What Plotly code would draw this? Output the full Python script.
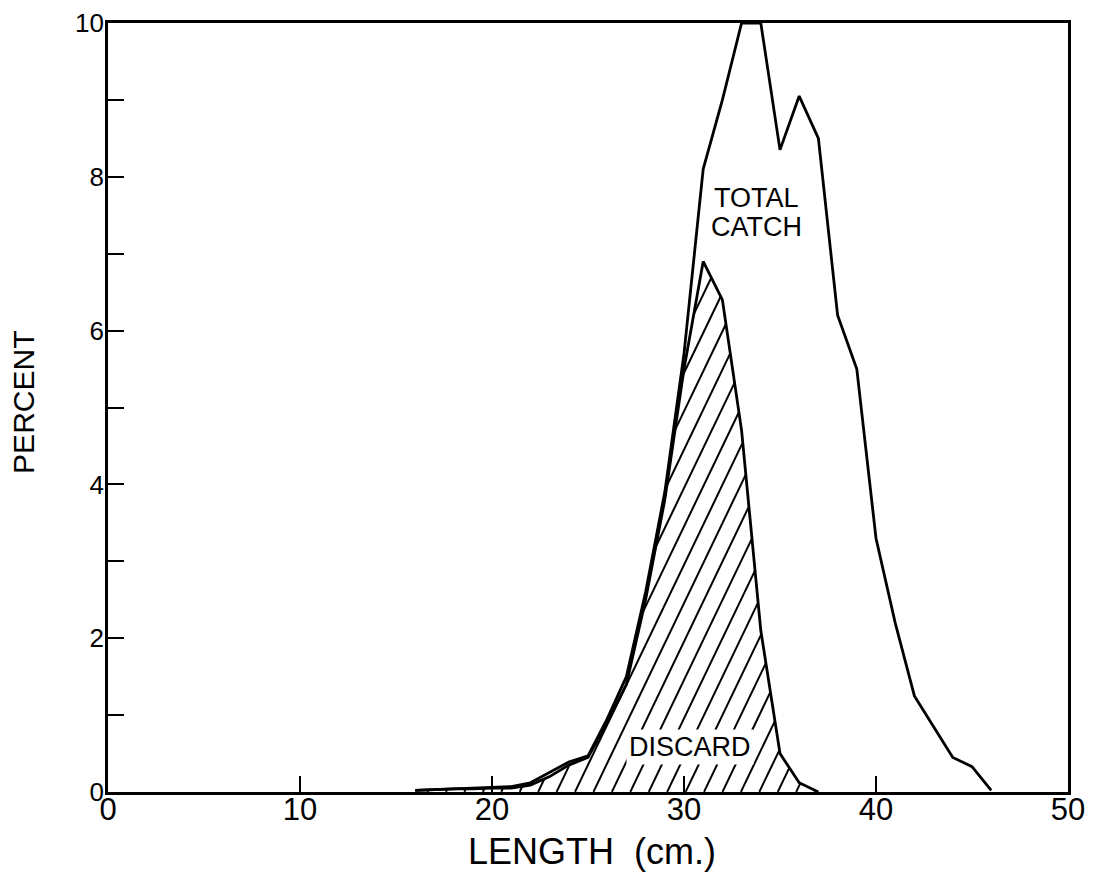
import numpy as np
import plotly.graph_objects as go

# ---- data ----
total_length = list(range(16, 47))
total_pct = [0.02, 0.03, 0.04, 0.05, 0.06, 0.07, 0.12, 0.25, 0.39, 0.47,
             0.95, 1.5, 2.6, 3.9, 5.7, 8.1, 9.0, 10.0, 10.0, 8.35,
             9.05, 8.5, 6.2, 5.5, 3.3, 2.2, 1.25, 0.85, 0.45, 0.33, 0.02]

discard_length = list(range(16, 38))
discard_pct = [0.02, 0.03, 0.04, 0.04, 0.05, 0.05, 0.09, 0.2, 0.35, 0.45,
               0.9, 1.4, 2.5, 3.8, 5.5, 6.9, 6.4, 4.7, 2.1, 0.5, 0.12, 0.0]

x_ticks = [0, 10, 20, 30, 40, 50]
y_ticks = list(range(0, 11))
y_ticktext = [str(v) if v % 2 == 0 else "" for v in y_ticks]

# ---- hatching of the discard area (steep "/" lines clipped to the area) ----
m = 0.52          # slope of hatch lines in data units (percent per cm)
gap = 0.96        # horizontal spacing of hatch lines (cm)
xs = np.linspace(14, 38, 6001)
f = np.interp(xs, discard_length, discard_pct, left=0, right=0)
hx, hy = [], []
for x0 in np.arange(8.0, 38.0, gap):
    yl = m * (xs - x0)
    inside = (yl >= 0) & (yl <= f)
    d = np.diff(np.concatenate([[0], inside.astype(int), [0]]))
    starts = np.flatnonzero(d == 1)
    ends = np.flatnonzero(d == -1) - 1
    for s, e in zip(starts, ends):
        if e > s:
            hx += [xs[s], xs[e], None]
            hy += [yl[s], yl[e], None]

fig = go.Figure()
fig.add_trace(go.Scatter(x=hx, y=hy, mode="lines",
                         line=dict(color="black", width=2.0),
                         hoverinfo="skip", showlegend=False))
fig.add_trace(go.Scatter(x=discard_length, y=discard_pct, mode="lines",
                         line=dict(color="black", width=2.8),
                         name="Discard", showlegend=False))
fig.add_trace(go.Scatter(x=total_length, y=total_pct, mode="lines",
                         line=dict(color="black", width=2.8),
                         name="Total catch", showlegend=False))

font_family = "Liberation Sans, Arial, sans-serif"

fig.update_layout(
    width=1101, height=876,
    margin=dict(l=100, r=41, t=15, b=92),
    paper_bgcolor="white", plot_bgcolor="white",
    font=dict(family=font_family, color="black"),
    xaxis=dict(range=[0, 50], tickvals=x_ticks, ticktext=[str(v) for v in x_ticks],
               ticks="inside", ticklen=16, tickwidth=2.4, tickcolor="black",
               showline=True, linecolor="black", linewidth=2.8, mirror=True,
               showgrid=False, zeroline=False, ticklabelstandoff=-12,
               ticklabeloverflow="allow", automargin=False,
               tickfont=dict(size=31, family=font_family)),
    yaxis=dict(range=[0, 10], tickvals=y_ticks, ticktext=y_ticktext,
               ticks="inside", ticklen=16, tickwidth=2.4, tickcolor="black",
               showline=True, linecolor="black", linewidth=2.8, mirror=True,
               showgrid=False, zeroline=False, ticklabelstandoff=-4,
               ticklabeloverflow="allow", automargin=False,
               tickfont=dict(size=26, family=font_family)),
    annotations=[
        dict(text="LENGTH  (cm.)", xref="paper", yref="paper", x=0.504, y=-0.078,
             xanchor="center", yanchor="middle", showarrow=False,
             font=dict(size=36, family=font_family)),
        dict(text="PERCENT", xref="paper", yref="paper", x=-0.0875, y=0.506,
             xanchor="center", yanchor="middle", showarrow=False, textangle=-90,
             font=dict(size=30, family=font_family)),
        dict(text="TOTAL", xref="x", yref="y", x=33.8, y=7.72,
             showarrow=False, font=dict(size=27, family=font_family)),
        dict(text="CATCH", xref="x", yref="y", x=33.8, y=7.35,
             showarrow=False, font=dict(size=27, family=font_family)),
        dict(text="DISCARD", xref="x", yref="y", x=30.3, y=0.59,
             showarrow=False, bgcolor="white", borderpad=2,
             font=dict(size=27, family=font_family)),
    ],
)

fig.write_html("out.html")
